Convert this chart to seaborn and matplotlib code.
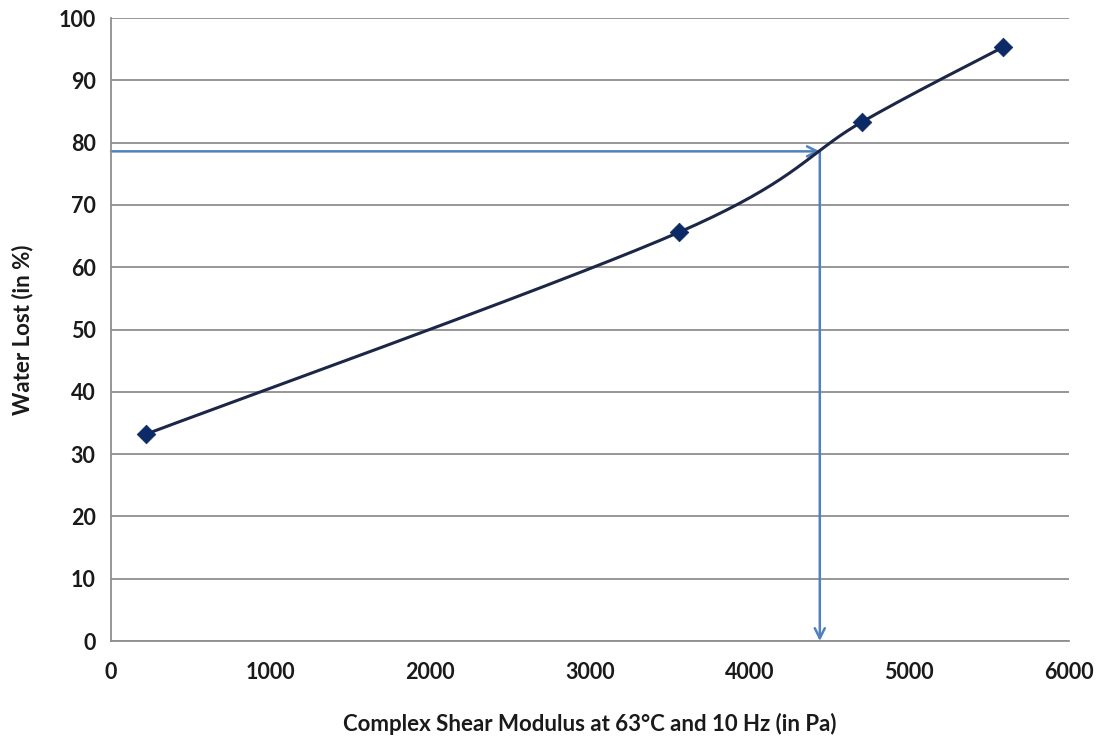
import numpy as np
import pandas as pd
import matplotlib
matplotlib.use("Agg")
import matplotlib.pyplot as plt
import seaborn as sns

# Measured data
modulus = [219, 3557, 4703, 5586]          # Pa
water_lost = [33.2, 65.6, 83.3, 95.3]      # %

# Read-off guide: target water loss and corresponding modulus
guide_y = 78.6
guide_x = 4440

x_ticks = [0, 1000, 2000, 3000, 4000, 5000, 6000]
y_ticks = [0, 10, 20, 30, 40, 50, 60, 70, 80, 90, 100]

sns.set_theme(style="white")
plt.rcParams["font.family"] = ["Lato", "DejaVu Sans"]

fig = plt.figure(figsize=(11.01, 7.42), dpi=100)
ax = fig.add_axes([0.1008, 0.1361, 0.8700, 0.8396])
ax.set_xlim(0, 6000)
ax.set_ylim(0, 100)


def smooth_curve(xs, ys, sx, sy, n=60):
    """Spreadsheet-style smoothed line: cubic Bezier through each point pair,
    control points from neighbouring points (computed in screen-like units)."""
    P = np.column_stack([np.asarray(xs) * sx, np.asarray(ys) * sy])
    out = []
    for i in range(len(P) - 1):
        p0 = P[i - 1] if i > 0 else P[i]
        p1, p2 = P[i], P[i + 1]
        p3 = P[i + 2] if i + 2 < len(P) else P[i + 1]
        c1 = p1 + (p2 - p0) / 6.0
        c2 = p2 - (p3 - p1) / 6.0
        t = np.linspace(0, 1, n)[:, None]
        seg = ((1 - t) ** 3) * p1 + 3 * ((1 - t) ** 2) * t * c1 + 3 * (1 - t) * t ** 2 * c2 + t ** 3 * p2
        out.append(seg if i == 0 else seg[1:])
    arr = np.vstack(out)
    return arr[:, 0] / sx, arr[:, 1] / sy


# axes size in pixels: 958 wide for 6000 Pa, 623 tall for 100 %
sx, sy = 958 / 6000, 623 / 100
cx, cy = smooth_curve(modulus, water_lost, sx, sy)
curve = pd.DataFrame({"x": cx, "y": cy})
pts = pd.DataFrame({"x": modulus, "y": water_lost})

for yt in y_ticks:
    ax.axhline(yt, color="#8f8f8f", lw=1.3, zorder=0)

sns.lineplot(data=curve, x="x", y="y", ax=ax, color="#1c2748", lw=2.2,
             sort=False, estimator=None, zorder=3)
sns.scatterplot(data=pts, x="x", y="y", ax=ax, marker="D", s=90,
                color="#0b2a66", edgecolor="#0b2a66", linewidth=0.5, zorder=4)

arrow_col = "#4f81bd"
ax.annotate("", xy=(guide_x, guide_y), xytext=(0, guide_y),
            arrowprops=dict(arrowstyle="->", color=arrow_col, lw=1.8,
                            mutation_scale=18, shrinkA=0, shrinkB=0), zorder=2)
ax.annotate("", xy=(guide_x, 0), xytext=(guide_x, guide_y),
            arrowprops=dict(arrowstyle="->", color=arrow_col, lw=1.8,
                            mutation_scale=18, shrinkA=0, shrinkB=0), zorder=2)

for s in ["top", "right"]:
    ax.spines[s].set_visible(False)
for s in ["left", "bottom"]:
    ax.spines[s].set_color("#8f8f8f")
    ax.spines[s].set_linewidth(1.3)

ax.set_xticks(x_ticks)
ax.set_yticks(y_ticks)
ax.tick_params(axis="both", direction="out", length=6, width=1.2, color="#8f8f8f",
               labelsize=15.5, labelcolor="#1a1a1a")
ax.tick_params(axis="y", pad=5)
ax.tick_params(axis="x", pad=9)
for lab in ax.get_xticklabels() + ax.get_yticklabels():
    lab.set_fontweight("bold")

ax.set_xlabel("Complex Shear Modulus at 63°C and 10 Hz (in Pa)", fontsize=16,
              fontweight="bold", color="#1a1a1a", labelpad=22)
ax.set_ylabel("Water Lost (in %)", fontsize=16, fontweight="bold",
              color="#1a1a1a", labelpad=18)

fig.savefig("out.png", dpi=100, facecolor="white")
